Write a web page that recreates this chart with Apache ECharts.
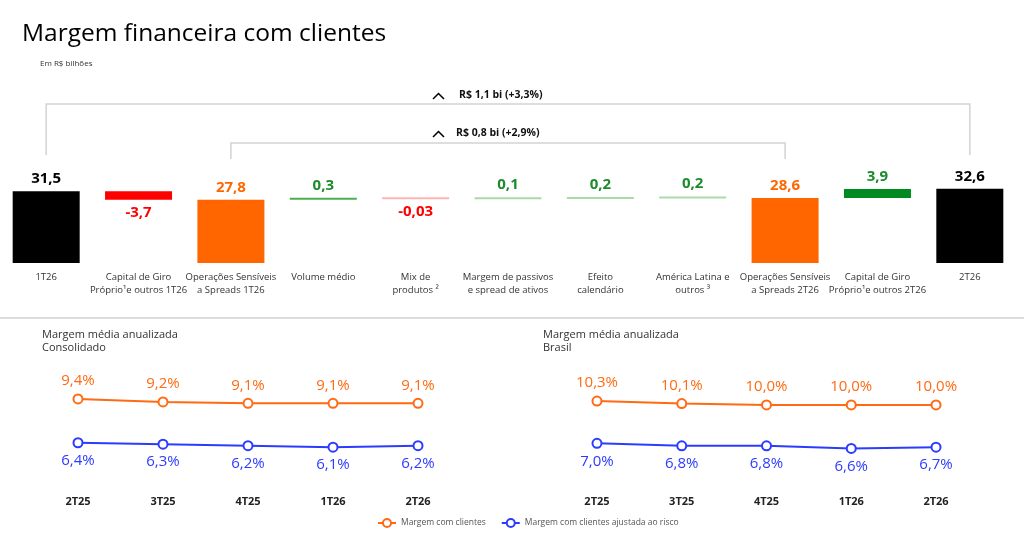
<!DOCTYPE html>
<html>
<head>
<meta charset="utf-8">
<script src="https://cdn.jsdelivr.net/npm/echarts@6/dist/echarts.min.js"></script>
<style>
	html, body { margin:0; padding:0; background:#fff; }
	#main { width:1024px; height:540px; }
</style>
</head>
<body>
<div id="main"></div>
<script>
// ponte da margem financeira (R$ bi)
var wfCats = ['1T26', 'Capital de Giro\nPróprio¹e outros 1T26', 'Operações Sensíveis\na Spreads 1T26', 'Volume médio',
	'Mix de\nprodutos ²', 'Margem de passivos\ne spread de ativos', 'Efeito\ncalendário', 'América Latina e\noutros ³',
	'Operações Sensíveis\na Spreads 2T26', 'Capital de Giro\nPróprio¹e outros 2T26', '2T26'];
var wfValues = [31.5, -3.7, 27.8, 0.3, -0.03, 0.1, 0.2, 0.2, 28.6, 3.9, 32.6];
var wfIsTotal = [true, false, true, false, false, false, false, false, true, false, true];

// margem média anualizada (%)
var quarters = ['2T25', '3T25', '4T25', '1T26', '2T26'];
var consMargem = [9.4, 9.2, 9.1, 9.1, 9.1];
var consRisco = [6.4, 6.3, 6.2, 6.1, 6.2];
var brMargem = [10.3, 10.1, 10.0, 10.0, 10.0];
var brRisco = [7.0, 6.8, 6.8, 6.6, 6.7];

var bracketOuter = 'R$ 1,1 bi (+3,3%)';
var bracketInner = 'R$ 0,8 bi (+2,9%)';

var barColors = ['#000000', '#ff0000', '#ff6600', '#4cae4f', '#ffb3b3', '#a9dba9', '#a9dba9', '#a9dba9', '#ff6600', '#008a20', '#000000'];
var labelColors = ['#000000', '#ff0000', '#ff6600', '#1d8b2b', '#ff0000', '#1d8b2b', '#1d8b2b', '#1d8b2b', '#ff6600', '#1d8b2b', '#000000'];
var ORANGE = '#ff6a13', BLUE = '#2c3cff';
var FONT = 'Open Sans';

function fmt(v, dec){
	var s = dec == null ? String(v) : v.toFixed(dec);
	return s.replace('.', ',');
}

var main = document.getElementById('main');
var myChart = echarts.init(main);

// base invisivel + barra visivel
var base = [], bars = [], running = 0;
for (var i = 0; i < wfValues.length; i++) {
	var v = wfValues[i];
	if (wfIsTotal[i]) {
		base.push(0);
		running = v;
	} else {
		if (v < 0) { running += v; base.push(running); }
		else { base.push(running); running += v; }
	}
	bars.push({
		value: Math.abs(v),
		itemStyle: {color: barColors[i]},
		label: {
			show: true,
			position: v < 0 ? 'bottom' : 'top',
			distance: 5,
			color: labelColors[i],
			fontSize: 15,
			fontWeight: 'bold',
			fontFamily: FONT,
			formatter: fmt(v)
		}
	});
}

function lineSeries(name, data, color, idx, pos){
	return {
		name: name,
		type: 'line',
		xAxisIndex: idx,
		yAxisIndex: idx,
		data: data,
		symbol: 'emptyCircle',
		symbolSize: 9,
		lineStyle: {color: color, width: 2},
		itemStyle: {color: color, borderWidth: 2},
		label: {
			show: true,
			position: pos,
			distance: 5,
			color: color,
			fontSize: 15,
			fontFamily: FONT,
			formatter: function(p){ return fmt(p.value, 1) + '%'; }
		},
		z: 3
	};
}

function catAxis(idx, margin){
	return {
		type: 'category',
		gridIndex: idx,
		data: quarters,
		axisLine: {show: false},
		axisTick: {show: false},
		axisLabel: {margin: margin, fontSize: 11, fontWeight: 'bold', color: '#222', fontFamily: FONT}
	};
}

function titleItem(text, left, top, size, lh){
	return {
		text: text, left: left, top: top, padding: 0,
		textStyle: {fontSize: size, lineHeight: lh, fontWeight: 'normal', color: size > 20 ? '#000' : '#333', fontFamily: FONT}
	};
}

var option = {
	animation: false,
	textStyle: {fontFamily: FONT},
	title: [
		titleItem('Margem financeira com clientes', 22, 20, 24.5, 28),
		titleItem('Em R$ bilhões', 40, 59, 8, 10),
		titleItem('Margem média anualizada\nConsolidado', 42, 328, 11, 13),
		titleItem('Margem média anualizada\nBrasil', 543, 328, 11, 13)
	],
	legend: {
		left: 377,
		top: 518,
		padding: 0,
		itemWidth: 18,
		itemHeight: 10,
		itemGap: 15,
		textStyle: {fontSize: 8.5, color: '#555', fontFamily: FONT},
		data: ['Margem com clientes', 'Margem com clientes ajustada ao risco']
	},
	grid: [
		{left: -2, right: 8, top: 172, bottom: 277},
		{left: 35.5, width: 425, top: 375.6, height: 87.6},
		{left: 554.6, width: 423.8, top: 392.1, height: 64}
	],
	xAxis: [
		{
			type: 'category',
			gridIndex: 0,
			data: wfCats,
			axisLine: {show: false},
			axisTick: {show: false},
			axisLabel: {interval: 0, margin: 8, fontSize: 9.5, lineHeight: 13, color: '#333', fontFamily: FONT}
		},
		catAxis(1, 33),
		catAxis(2, 40)
	],
	yAxis: [
		{type: 'value', gridIndex: 0, min: 0, max: 40, show: false},
		{type: 'value', gridIndex: 1, min: 5, max: 11, show: false},
		{type: 'value', gridIndex: 2, min: 6, max: 11, show: false}
	],
	series: [
		{
			type: 'bar', stack: 'wf', data: base, barWidth: 67,
			itemStyle: {color: 'transparent'}, silent: true
		},
		{
			type: 'bar', stack: 'wf', data: bars, barWidth: 67, barMinHeight: 2
		},
		lineSeries('Margem com clientes', consMargem, ORANGE, 1, 'top'),
		lineSeries('Margem com clientes ajustada ao risco', consRisco, BLUE, 1, 'bottom'),
		lineSeries('Margem com clientes', brMargem, ORANGE, 2, 'top'),
		lineSeries('Margem com clientes ajustada ao risco', brRisco, BLUE, 2, 'bottom')
	]
};
myChart.setOption(option);

// chaves de variacao e divisoria
function drawBrackets(chart){
	function px(i){ return chart.convertToPixel({xAxisIndex: 0}, i); }
	var grey = {stroke: '#d3d3d3', lineWidth: 1.5, fill: null};
	var x0 = px(0), x2 = px(2), x8 = px(8), x10 = px(10);
	var g = [
		{type: 'polyline', shape: {points: [[x0, 155], [x0, 104], [x10, 104], [x10, 155]]}, style: grey},
		{type: 'polyline', shape: {points: [[x2, 159], [x2, 143], [x8, 143], [x8, 159]]}, style: grey},
		{type: 'polyline', shape: {points: [[433, 99], [438.5, 93.5], [444, 99]]}, style: {stroke: '#000', lineWidth: 1.5, fill: null}},
		{type: 'text', x: 459, y: 95, style: {text: bracketOuter, fontSize: 10.5, fontWeight: 'bold', fill: '#111', fontFamily: FONT, verticalAlign: 'middle'}},
		{type: 'polyline', shape: {points: [[433, 137], [438.5, 131.5], [444, 137]]}, style: {stroke: '#000', lineWidth: 1.5, fill: null}},
		{type: 'text', x: 456, y: 133, style: {text: bracketInner, fontSize: 10.5, fontWeight: 'bold', fill: '#111', fontFamily: FONT, verticalAlign: 'middle'}},
		{type: 'line', shape: {x1: 0, y1: 318, x2: 1024, y2: 318}, style: {stroke: '#dcdcdc', lineWidth: 2}}
	];
	chart.setOption({graphic: g});
}
drawBrackets(myChart);
</script>
</body>
</html>
